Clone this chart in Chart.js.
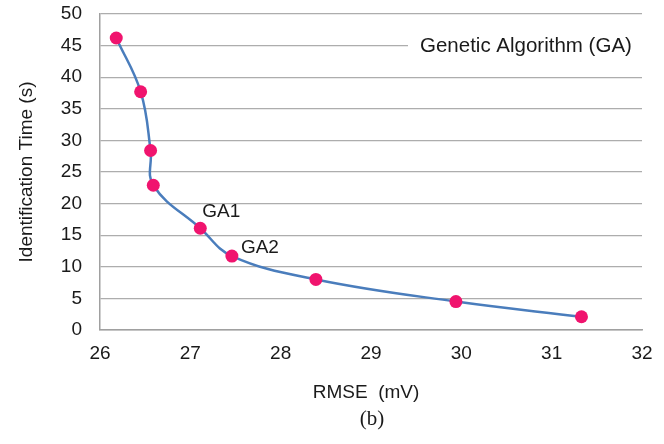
<!DOCTYPE html>
<html>
<head>
<meta charset="utf-8">
<script src="https://cdn.jsdelivr.net/npm/chart.js@4/dist/chart.umd.min.js"></script>
<style>
  html, body { margin: 0; padding: 0; background: #fff; }
  #wrap { width: 664px; height: 444px; }
</style>
</head>
<body>
<div id="wrap"><canvas id="gaChart" width="664" height="444"></canvas></div>
<script>
// GA 식별 결과 (RMSE vs 식별 시간)
const rmse = [26.18, 26.45, 26.56, 26.59, 27.11, 27.46, 28.39, 29.94, 31.33];
const idTime = [46.2, 37.7, 28.4, 22.9, 16.1, 11.7, 8.0, 4.5, 2.1];
const pointTags = ['', '', '', '', 'GA1', 'GA2', '', '', ''];
const xTicks = [26, 27, 28, 29, 30, 31, 32];
const yTicks = [0, 5, 10, 15, 20, 25, 30, 35, 40, 45, 50];

const seriesName = 'Genetic Algorithm (GA)';
const xTitle = 'RMSE  (mV)';
const yTitle = 'Identification Time (s)';
const caption = '(b)';

const sans = "'Liberation Sans', Arial, sans-serif";
const textColor = '#1a1a1a';
const fontSize = 19;

// 라벨 위치 보정 (점 기준)
const tagOffset = { GA1: [2, -16], GA2: [9, -8] };

const annotate = {
  id: 'annotate',
  afterDraw(chart) {
    const { ctx, chartArea } = chart;
    const meta = chart.getDatasetMeta(0);
    ctx.save();
    ctx.textBaseline = 'middle';

    // 범례 (흰 배경으로 격자선 가림)
    ctx.fillStyle = '#fff';
    ctx.fillRect(408, 32, chartArea.right - 408, 28);
    ctx.fillStyle = textColor;
    ctx.textAlign = 'left';
    ctx.font = '20.5px ' + sans;
    ctx.fillText(seriesName, 420, 46);

    // GA1 / GA2
    ctx.font = fontSize + 'px ' + sans;
    pointTags.forEach((tag, i) => {
      if (!tag) return;
      const p = meta.data[i];
      const off = tagOffset[tag] || [6, -12];
      ctx.fillText(tag, p.x + off[0], p.y + off[1]);
    });

    // 축 제목
    ctx.textAlign = 'center';
    ctx.fillText(xTitle, 366, 393);
    ctx.save();
    ctx.translate(27, (chartArea.top + chartArea.bottom) / 2);
    ctx.rotate(-Math.PI / 2);
    ctx.fillText(yTitle, 0, 0);
    ctx.restore();

    ctx.font = "21px 'Liberation Serif', 'Times New Roman', serif";
    ctx.fillText(caption, 372, 419);
    ctx.restore();
  }
};

const ctx = document.getElementById('gaChart').getContext('2d');
new Chart(ctx, {
  type: 'line',
  data: {
    datasets: [{
      label: seriesName,
      data: rmse.map((x, i) => ({ x: x, y: idTime[i] })),
      borderColor: '#4a7dbc',
      borderWidth: 2.5,
      tension: 0.4,
      fill: false,
      pointRadius: 6.5,
      pointHoverRadius: 6.5,
      pointBackgroundColor: '#f0146e',
      pointBorderColor: '#f0146e',
      pointBorderWidth: 0
    }]
  },
  options: {
    responsive: false,
    animation: false,
    events: [],
    layout: { padding: { top: 14, right: 22, left: 0, bottom: 0 } },
    scales: {
      x: {
        type: 'linear',
        min: 26,
        max: 32,
        afterFit(scale) {
          scale.height = 114;
          scale.paddingLeft = 0;
          scale.paddingRight = 0;
        },
        afterBuildTicks(scale) { scale.ticks = xTicks.map(v => ({ value: v })); },
        grid: { display: false, drawTicks: false },
        border: { display: true, color: '#a0a0a0', width: 1.5 },
        ticks: { padding: 12, color: textColor, font: { family: sans, size: fontSize } }
      },
      y: {
        min: 0,
        max: 50,
        afterFit(scale) {
          scale.width = 100;
          scale.paddingTop = 0;
          scale.paddingBottom = 0;
        },
        afterBuildTicks(scale) { scale.ticks = yTicks.map(v => ({ value: v })); },
        grid: { color: '#adadad', lineWidth: 1.3, drawTicks: false },
        border: { display: true, color: '#a0a0a0', width: 1.5 },
        ticks: { padding: 18, color: textColor, font: { family: sans, size: fontSize } }
      }
    },
    plugins: {
      legend: { display: false },
      tooltip: { enabled: false }
    }
  },
  plugins: [annotate]
});
</script>
</body>
</html>
